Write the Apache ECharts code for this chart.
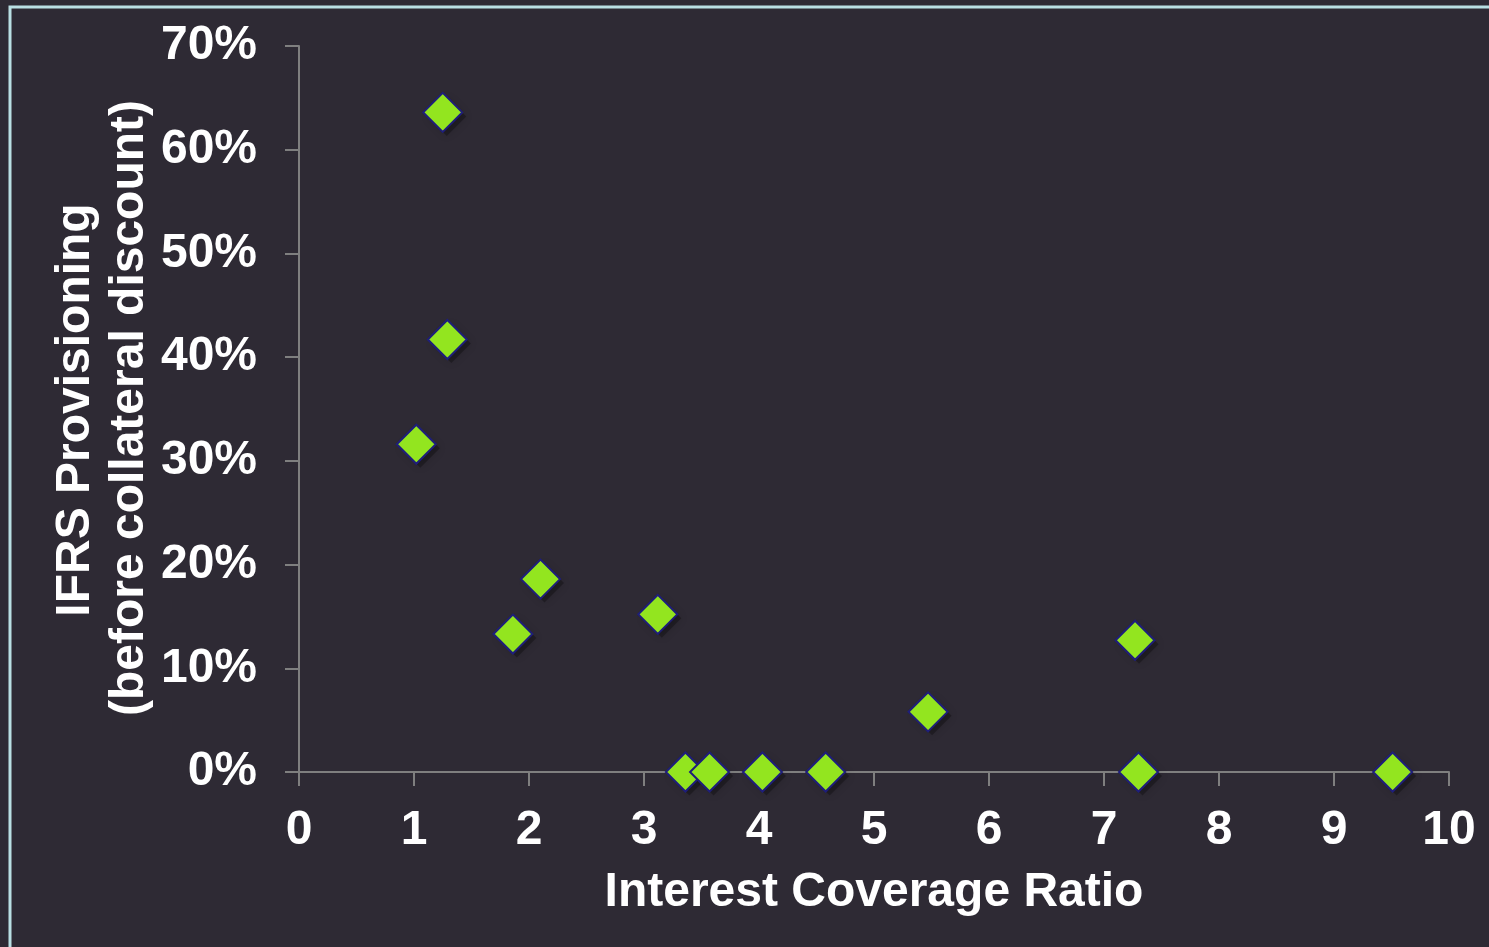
<!DOCTYPE html>
<html>
<head>
<meta charset="utf-8">
<style>
  html, body { margin: 0; padding: 0; background: #2e2a34; }
  #chart { width: 1489px; height: 947px; }
</style>
<script src="https://cdn.jsdelivr.net/npm/echarts@6/dist/echarts.min.js"></script>
</head>
<body>
<div id="chart"></div>
<script>
// Interest coverage ratio of each borrower (x) and its IFRS provision rate (y)
const coverageRatio = [1.25, 1.29, 1.02, 2.10, 1.86, 3.12, 7.27, 5.47, 3.36, 3.57, 4.03, 4.58, 7.30, 9.51];
const provisionRate = [0.636, 0.417, 0.316, 0.186, 0.133, 0.152, 0.127, 0.058, 0, 0, 0, 0, 0, 0];

const xTicks = ['0', '1', '2', '3', '4', '5', '6', '7', '8', '9', '10'];
const yTicks = ['0%', '10%', '20%', '30%', '40%', '50%', '60%', '70%'];

const xTitle = 'Interest Coverage Ratio';
const yTitle = ['IFRS Provisioning', '(before collateral discount)'];

const points = coverageRatio.map((x, i) => [x, provisionRate[i]]);

const font = '"Liberation Sans", Arial, sans-serif';
const titleFont = 'bold 48px ' + font;
const axisGrey = '#7f7f7f';
const markerSize = 39;

const chart = echarts.init(document.getElementById('chart'), null, { renderer: 'canvas' });

chart.setOption({
  backgroundColor: '#2e2a34',
  animation: false,
  graphic: [
    {
      type: 'polyline',
      shape: { points: [[10, 947], [10, 7], [1489, 7]] },
      style: { stroke: '#b9dfe3', lineWidth: 3, fill: null }
    },
    // vertical axis title, two rotated lines
    {
      type: 'text', x: 76, y: 410, rotation: Math.PI / 2,
      style: { text: yTitle[0], font: titleFont, fill: '#ffffff', align: 'center', verticalAlign: 'middle' }
    },
    {
      type: 'text', x: 130, y: 408, rotation: Math.PI / 2,
      style: { text: yTitle[1], font: titleFont, fill: '#ffffff', align: 'center', verticalAlign: 'middle' }
    }
  ],
  grid: { left: 299, right: 40, top: 46, bottom: 175, containLabel: false },
  xAxis: {
    type: 'value',
    min: 0, max: 10, interval: 1,
    name: xTitle,
    nameLocation: 'middle',
    nameGap: 97,
    nameTextStyle: { color: '#ffffff', fontFamily: font, fontWeight: 'bold', fontSize: 48, lineHeight: 48 },
    axisLine: { show: true, lineStyle: { color: axisGrey, width: 2 } },
    axisTick: { show: true, inside: false, length: 14, lineStyle: { color: axisGrey, width: 2 } },
    splitLine: { show: false },
    axisLabel: {
      margin: 35,
      color: '#ffffff', fontFamily: font, fontWeight: 'bold', fontSize: 48, lineHeight: 48,
      formatter: v => xTicks[Math.round(v)]
    }
  },
  yAxis: {
    type: 'value',
    min: 0, max: 0.7, interval: 0.1,
    axisLine: { show: true, lineStyle: { color: axisGrey, width: 2 } },
    axisTick: { show: true, inside: false, length: 14, lineStyle: { color: axisGrey, width: 2 } },
    splitLine: { show: false },
    axisLabel: {
      margin: 42,
      color: '#ffffff', fontFamily: font, fontWeight: 'bold', fontSize: 48, lineHeight: 48,
      formatter: v => yTicks[Math.round(v * 10)]
    }
  },
  series: [
    {
      // soft drop shadow under each diamond
      type: 'scatter',
      data: points,
      symbol: 'diamond',
      symbolSize: markerSize,
      symbolOffset: [4, 4],
      silent: true,
      z: 1,
      itemStyle: {
        color: 'rgba(0,0,0,0.35)',
        shadowColor: 'rgba(0,0,0,0.5)',
        shadowBlur: 8
      }
    },
    {
      type: 'scatter',
      data: points,
      symbol: 'diamond',
      symbolSize: markerSize,
      z: 2,
      itemStyle: {
        color: '#93e51f',
        borderColor: '#1e1e7a',
        borderWidth: 2,
        opacity: 1
      }
    }
  ]
});
</script>
</body>
</html>
